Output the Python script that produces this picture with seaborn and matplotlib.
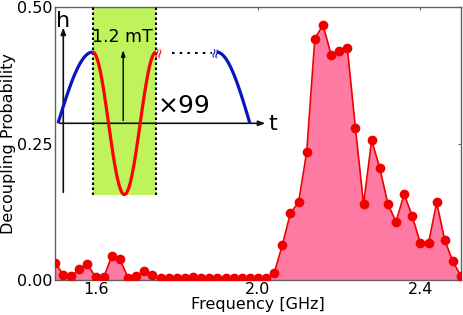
import numpy as np
import pandas as pd
import matplotlib
matplotlib.use("Agg")
import matplotlib.pyplot as plt
import seaborn as sns

# ---- data ----
freq_start, freq_step = 1.50, 0.02
probability = [
    0.032, 0.010, 0.007, 0.020, 0.029, 0.005, 0.005, 0.044, 0.038, 0.004,
    0.007, 0.017, 0.010, 0.004, 0.003, 0.004, 0.003, 0.005, 0.003, 0.003,
    0.004, 0.003, 0.003, 0.003, 0.003, 0.003, 0.003, 0.013, 0.064, 0.123,
    0.142, 0.235, 0.442, 0.467, 0.413, 0.420, 0.425, 0.278, 0.139, 0.256,
    0.205, 0.139, 0.107, 0.157, 0.117, 0.067, 0.067, 0.142, 0.073, 0.034,
    0.007,
]
frequency = [round(freq_start + i * freq_step, 2) for i in range(len(probability))]
x_ticks = [1.6, 2.0, 2.4]
x_tick_labels = ["1.6", "2.0", "2.4"]
y_ticks = [0.0, 0.25, 0.5]
y_tick_labels = ["0.00", "0.25", "0.50"]

df = pd.DataFrame({"Frequency": frequency, "Probability": probability})

sns.set_style("white")
plt.rcParams['font.family'] = ['DejaVu Sans']
plt.rcParams['text.color'] = 'black'
plt.rcParams['axes.labelcolor'] = 'black'

fig = plt.figure(figsize=(4.64, 3.15), dpi=100)
ax = fig.add_axes([55/464, 1-280/315, 406/464, 273/315])

ax.fill_between(df["Frequency"], df["Probability"], 0, color="#ff7aa2", lw=0, zorder=1)
sns.lineplot(data=df, x="Frequency", y="Probability", ax=ax, color="#ee0000",
             lw=1.2, marker="o", markersize=7, markeredgewidth=0,
             markerfacecolor="#ee0000", zorder=3)

ax.set_xlim(1.5, 2.5)
ax.set_ylim(0, 0.5)
ax.set_xticks(x_ticks)
ax.set_xticklabels(x_tick_labels)
ax.set_yticks(y_ticks)
ax.set_yticklabels(y_tick_labels)
ax.set_xlabel("Frequency [GHz]", fontsize=11.5, labelpad=0, color="black")
ax.set_ylabel("Decoupling Probability", fontsize=11.5, labelpad=1, color="black")
ax.tick_params(direction="in", length=2, width=0.8, color="#5a6464",
               labelcolor="black", labelsize=11.5, top=True, right=True, pad=1.5)
for s in ax.spines.values():
    s.set_color("#5a6464")
    s.set_linewidth(1.0)

# ---- inset schematic (axes-fraction coordinates) ----
T = ax.transAxes
x0g, x1g = 0.0929, 0.2488
y_axis_t = 0.574
amp = 0.261
ax.add_patch(plt.Rectangle((x0g, 0.311), x1g - x0g, 1 - 0.311, transform=T,
                           facecolor="#bff35c", edgecolor="none", zorder=2))
for xv in (x0g, x1g):
    ax.plot([xv, xv], [0.311, 1.0], transform=T, color="black", lw=1.5,
            ls=(0, (1.2, 1.2)), zorder=4)

# axes of schematic
ax.annotate("", xy=(0.525, y_axis_t), xytext=(0.005, y_axis_t), xycoords=T, textcoords=T,
            arrowprops=dict(arrowstyle="-|>,head_length=0.4,head_width=0.15", lw=1.2, color="#111111"),
            zorder=4)
ax.annotate("", xy=(0.0204, 0.935), xytext=(0.0204, 0.311), xycoords=T, textcoords=T,
            arrowprops=dict(arrowstyle="-|>,head_length=0.4,head_width=0.15", lw=1.2, color="#111111"),
            zorder=4)
ax.text(0.537, 0.549, "t", transform=T, fontsize=16, ha="center", va="baseline", zorder=5)
ax.text(0.021, 0.925, "h", transform=T, fontsize=16, ha="center", va="baseline", zorder=5)

# blue rising part
xb = np.linspace(0.0074, x0g, 50)
ax.plot(xb, y_axis_t + amp*np.sin(np.pi/2*(xb-0.0074)/(x0g-0.0074)), transform=T,
        color="#0a14c0", lw=2.3, zorder=5, solid_capstyle="butt")
# red full-period part
xr = np.linspace(x0g, x1g, 100)
ax.plot(xr, y_axis_t + amp*np.cos(2*np.pi*(xr-x0g)/(x1g-x0g)), transform=T,
        color="#ff0000", lw=2.3, zorder=5, solid_capstyle="butt")
# blue falling part
xb2 = np.linspace(0.398, 0.480, 50)
ax.plot(xb2, y_axis_t + amp*np.cos(np.pi/2*(xb2-0.398)/(0.480-0.398)), transform=T,
        color="#0a14c0", lw=2.3, zorder=5, solid_capstyle="butt")
# breaks
ax.text(0.254, y_axis_t+amp, "≈", transform=T, fontsize=10, color="#ff0000",
        rotation=80, ha="center", va="center", zorder=5)
ax.text(0.396, y_axis_t+amp, "≈", transform=T, fontsize=10, color="#0a14c0",
        rotation=80, ha="center", va="center", zorder=5)
ax.plot([0.287, 0.386], [0.831, 0.831], transform=T, color="black", lw=1.5,
        ls=(0, (1.2, 2.5)), zorder=5)
# 1.2 mT arrow
ax.annotate("", xy=(0.168, 0.852), xytext=(0.168, y_axis_t), xycoords=T, textcoords=T,
            arrowprops=dict(arrowstyle="-|>,head_length=0.35,head_width=0.12", lw=1.0, color="black"),
            zorder=5)
ax.text(0.167, 0.89, "1.2 mT", transform=T, fontsize=12.5, ha="center", va="center", zorder=6)
ax.text(0.252, 0.637, "×99", transform=T, fontsize=18, ha="left", va="center", zorder=6)

fig.savefig("out.png", dpi=100)
